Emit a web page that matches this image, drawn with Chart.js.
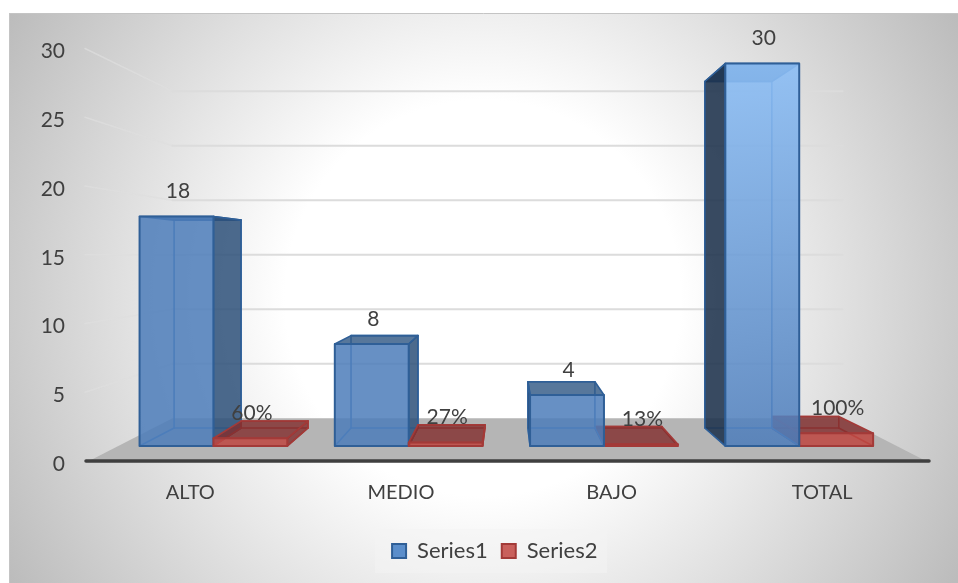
<!DOCTYPE html>
<html>
<head>
<meta charset="utf-8">
<style>
  html, body { margin: 0; padding: 0; background: #fff; }
  #wrap { width: 958px; height: 583px; }
</style>
<script src="https://cdn.jsdelivr.net/npm/chart.js@4"></script>
</head>
<body>
<div id="wrap"><canvas id="chart" width="958" height="583"></canvas></div>
<script>
// Values per category
const categories = ['ALTO', 'MEDIO', 'BAJO', 'TOTAL'];
const series1Values = [18, 8, 4, 30];
const series2Values = [0.6, 0.27, 0.13, 1];
const series1Labels = ['18', '8', '4', '30'];
const series2Labels = ['60%', '27%', '13%', '100%'];
const yMax = 30;
const yStep = 5;

// Perspective depths: a point on the front plane is pulled toward the
// vanishing point by this factor.
const FLOOR_BACK = 0.793;
const BAR_NEAR = 0.927;
const BAR_FAR = 0.84;
const HORIZON_VALUE = 15;
// The floor runs slightly past the last category band on the right
const FLOOR_OVERHANG = 2.5;

const TEXT = '#404040';
const FONT = 'Lato, "Open Sans", sans-serif';

const blueStyle = {
  legendFill: '#5b8ecb', edge: '#2f5f97', inner: '#4a7fbd',
  front: 'rgba(76,124,186,0.85)', frontLight: 'rgba(140,190,245,0.9)',
  top: 'rgba(45,85,130,0.8)', leftSide: 'rgba(27,48,75,0.87)', rightSide: 'rgba(45,80,121,0.85)'
};
const redStyle = {
  legendFill: '#c9605c', edge: '#a33a38', inner: '#a8403e',
  front: 'rgba(190,70,65,0.85)', frontLight: 'rgba(190,70,65,0.85)',
  top: 'rgba(130,45,45,0.8)', leftSide: 'rgba(130,45,45,0.8)', rightSide: 'rgba(130,45,45,0.8)'
};

function poly(ctx, pts, fill, stroke, lw) {
  ctx.beginPath();
  pts.forEach((p, i) => i ? ctx.lineTo(p[0], p[1]) : ctx.moveTo(p[0], p[1]));
  ctx.closePath();
  if (fill) { ctx.fillStyle = fill; ctx.fill(); }
  if (stroke) { ctx.strokeStyle = stroke; ctx.lineWidth = lw; ctx.lineJoin = 'round'; ctx.stroke(); }
}

function seg(ctx, a, b, color, lw) {
  ctx.beginPath();
  ctx.moveTo(a[0], a[1]);
  ctx.lineTo(b[0], b[1]);
  ctx.strokeStyle = color;
  ctx.lineWidth = lw;
  ctx.stroke();
}

// Card background, border and the legend panel
const cardPlugin = {
  id: 'card',
  beforeDraw(chart) {
    const { ctx } = chart;
    const grad = ctx.createRadialGradient(483, 298, 0, 483, 298, 550);
    grad.addColorStop(0, '#ffffff');
    grad.addColorStop(0.36, '#ffffff');
    grad.addColorStop(1, '#bcbcbc');
    ctx.fillStyle = grad;
    ctx.fillRect(9, 13, 949, 570);
    seg(ctx, [9.5, 583], [9.5, 13.5], '#c4c4c4', 1);
    seg(ctx, [9, 13.5], [958, 13.5], '#c4c4c4', 1);
    ctx.fillStyle = 'rgba(243,243,243,0.5)';
    ctx.fillRect(375, 529, 232, 44);
  },
  afterLayout(chart) {
    // Centre the legend under the plot's visual middle
    chart.legend.left += 31;
    chart.legend.right += 31;
  }
};

// Floor, walls and 3D boxes, projected from the bar elements the chart laid out
const perspectivePlugin = {
  id: 'perspective',
  beforeDatasetsDraw(chart) {
    const { ctx, chartArea: area, scales } = chart;
    const floorRight = area.right + FLOOR_OVERHANG;
    const cx = (area.left + floorRight) / 2;
    const cy = scales.y.getPixelForValue(HORIZON_VALUE);
    const project = (px, py, s) => [cx + (px - cx) * s, cy + (py - cy) * s];
    const base = scales.y.getPixelForValue(0);

    ctx.save();
    ctx.lineCap = 'round';

    // Gridlines: left wall, then back wall
    scales.y.ticks.forEach(t => {
      if (t.value === 0) return;
      const py = scales.y.getPixelForValue(t.value);
      const a = [area.left, py];
      const b = project(area.left, py, FLOOR_BACK);
      const c = project(floorRight, py, FLOOR_BACK);
      seg(ctx, a, b, 'rgba(222,222,222,0.7)', 1.5);
      seg(ctx, b, c, '#dcdcdc', 2);
    });

    // Floor
    poly(ctx, [
      [area.left + 4, base],
      [floorRight - 4, base],
      project(floorRight, base, FLOOR_BACK),
      project(area.left, base, FLOOR_BACK)
    ], '#b5b5b5');

    // Paint outer bars first so that the one nearer the centre overlaps it
    const boxes = [];
    chart.data.datasets.forEach((ds, di) => {
      chart.getDatasetMeta(di).data.forEach((el, i) => {
        boxes.push({ el, i, style: di === 0 ? blueStyle : redStyle, value: ds.data[i] });
      });
    });
    boxes.sort((p, q) => Math.abs(q.el.x - cx) - Math.abs(p.el.x - cx));
    boxes.forEach(b => drawBox(ctx, b, cx, project));

    // Value labels sit above the top front edge of each box
    ctx.font = '21px ' + FONT;
    ctx.fillStyle = TEXT;
    ctx.textAlign = 'center';
    ctx.textBaseline = 'middle';
    chart.data.datasets.forEach((ds, di) => {
      const texts = di === 0 ? series1Labels : series2Labels;
      chart.getDatasetMeta(di).data.forEach((el, i) => {
        const p = project(el.x, el.y, BAR_NEAR);
        ctx.fillText(texts[i], p[0] + 1.5, p[1] - 25);
      });
    });

    // Front edge of the floor
    seg(ctx, [area.left + 1, base], [floorRight - 1, base], '#3f3f3f', 3.5);
    ctx.restore();
    return false;
  }
};

function drawBox(ctx, box, cx, project) {
  const { el, style, value } = box;
  const l = el.x - el.width / 2, r = el.x + el.width / 2;
  const t = el.y, bt = el.base;
  const n = s => ({
    lt: project(l, t, s), rt: project(r, t, s),
    lb: project(l, bt, s), rb: project(r, bt, s)
  });
  const f = n(BAR_NEAR), k = n(BAR_FAR);

  // Far edges show through the translucent front
  const innerW = 1.6;
  seg(ctx, k.lt, k.rt, style.inner, innerW);
  seg(ctx, k.lb, k.rb, style.inner, innerW);
  seg(ctx, k.lt, k.lb, style.inner, innerW);
  seg(ctx, k.rt, k.rb, style.inner, innerW);
  seg(ctx, f.lb, k.lb, style.inner, innerW);
  seg(ctx, f.rb, k.rb, style.inner, innerW);

  poly(ctx, [f.lt, f.rt, k.rt, k.lt], style.top, style.edge, 1.6);
  if (r <= cx) poly(ctx, [f.rt, f.rb, k.rb, k.rt], style.rightSide, style.edge, 1.6);
  if (l >= cx) poly(ctx, [f.lt, f.lb, k.lb, k.lt], style.leftSide, style.edge, 1.6);

  // Taller boxes catch more light at their top
  let frontFill = style.front;
  if (value > 18) {
    const g = ctx.createLinearGradient(0, f.lt[1], 0, f.lb[1]);
    g.addColorStop(0, style.frontLight);
    g.addColorStop(1, style.front);
    frontFill = g;
  }
  poly(ctx, [f.lt, f.rt, f.rb, f.lb], frontFill, style.edge, 2);
}

new Chart(document.getElementById('chart'), {
  type: 'bar',
  data: {
    labels: categories,
    datasets: [
      { label: 'Series1', data: series1Values, backgroundColor: blueStyle.legendFill,
        borderColor: blueStyle.edge, borderWidth: 2 },
      { label: 'Series2', data: series2Values, backgroundColor: redStyle.legendFill,
        borderColor: redStyle.edge, borderWidth: 2 }
    ]
  },
  plugins: [cardPlugin, perspectivePlugin],
  options: {
    responsive: false,
    animation: false,
    layout: { padding: { left: 0, right: 30.5, top: 48.5, bottom: 11 } },
    categoryPercentage: 0.757,
    barPercentage: 1,
    scales: {
      x: {
        grid: { display: false, drawTicks: false },
        border: { display: false },
        afterFit(scale) { scale.height = 65; },
        ticks: { color: TEXT, font: { family: FONT, size: 20 }, padding: 20, maxRotation: 0, autoSkip: false }
      },
      y: {
        min: 0,
        max: yMax,
        grid: { display: false, drawTicks: false },
        border: { display: false },
        afterFit(scale) { scale.width = 85; },
        ticks: { stepSize: yStep, color: TEXT, font: { family: FONT, size: 21 }, padding: 20, labelOffset: 3 }
      }
    },
    plugins: {
      title: { display: false },
      tooltip: { enabled: false },
      legend: {
        position: 'bottom',
        labels: { color: TEXT, font: { family: FONT, size: 22 }, boxWidth: 14, boxHeight: 14, padding: 14 }
      }
    }
  }
});
</script>
</body>
</html>
